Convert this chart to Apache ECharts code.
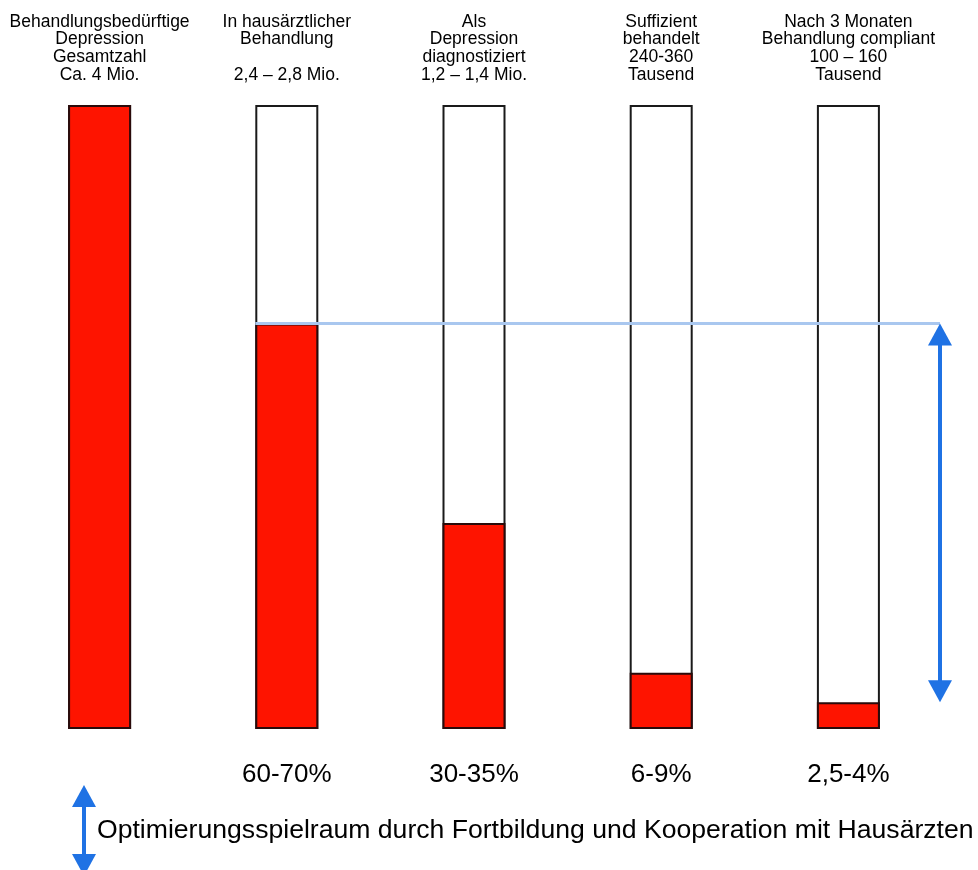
<!DOCTYPE html>
<html>
<head>
<meta charset="utf-8">
<script src="https://cdn.jsdelivr.net/npm/echarts@6/dist/echarts.min.js"></script>
<style>
  html, body { margin: 0; padding: 0; background: #ffffff; }
  #chart { width: 978px; height: 870px; }
</style>
</head>
<body>
<div id="chart"></div>
<script>
// Stages of care for depression (share of all patients needing treatment)
const categories = [
  'Behandlungsbedürftige\nDepression\nGesamtzahl\nCa. 4 Mio.',
  'In hausärztlicher\nBehandlung\n\n2,4 – 2,8 Mio.',
  'Als\nDepression\ndiagnostiziert\n1,2 – 1,4 Mio.',
  'Suffizient\nbehandelt\n240-360\nTausend',
  'Nach 3 Monaten\nBehandlung compliant\n100 – 160\nTausend'
];
const shareValues = [100, 65, 33, 9, 4.3];
const totalValues = [100, 100, 100, 100, 100];
const shareLabels = ['', '60-70%', '30-35%', '6-9%', '2,5-4%'];
const noteText = 'Optimierungsspielraum durch Fortbildung und Kooperation mit Hausärzten';

const FONT = '"Liberation Sans", Arial, Helvetica, sans-serif';
const BAR_WIDTH = 63;
const ARROW_BLUE = '#1f72e4';

const chart = echarts.init(document.getElementById('chart'), null, { renderer: 'canvas' });

chart.setOption({
  backgroundColor: '#ffffff',
  animation: false,
  grid: { left: 6, right: 36, top: 105, bottom: 141, containLabel: false },
  xAxis: [
    {
      type: 'category',
      position: 'top',
      data: categories,
      axisLine: { show: false },
      axisTick: { show: false },
      axisLabel: {
        interval: 0,
        margin: 21,
        color: '#000000',
        fontFamily: FONT,
        fontSize: 17.5,
        lineHeight: 17.8,
        align: 'center'
      }
    },
    {
      type: 'category',
      position: 'bottom',
      data: shareLabels,
      axisLine: { show: false },
      axisTick: { show: false },
      axisLabel: {
        interval: 0,
        margin: 33,
        color: '#000000',
        fontFamily: FONT,
        fontSize: 26
      }
    }
  ],
  yAxis: { type: 'value', min: 0, max: 100, show: false },
  series: [
    {
      name: 'Gesamt',
      type: 'bar',
      xAxisIndex: 0,
      data: totalValues,
      barWidth: BAR_WIDTH,
      barGap: '-100%',
      itemStyle: { color: '#ffffff', borderColor: '#1a1a1a', borderWidth: 2 },
      silent: true
    },
    {
      name: 'Anteil',
      type: 'bar',
      xAxisIndex: 0,
      data: shareValues,
      barWidth: BAR_WIDTH,
      barGap: '-100%',
      itemStyle: { color: '#fe1400', borderColor: '#2a0a0a', borderWidth: 2 },
      silent: true
    }
  ]
});

// Annotation: reference line at the GP stage and the gap arrow down to the last stage
const gpPoint = chart.convertToPixel({ seriesIndex: 1 }, [1, shareValues[1]]);
const lastPoint = chart.convertToPixel({ seriesIndex: 1 }, [4, shareValues[4]]);
const lineLeft = gpPoint[0] - BAR_WIDTH / 2;
const arrowX = 940;
const head = 22, halfHead = 12;

function arrowHead(x, tipY, dir) {
  // dir = -1 points up, +1 points down
  return {
    type: 'polygon',
    z: 100,
    shape: { points: [[x, tipY], [x - halfHead, tipY - dir * head], [x + halfHead, tipY - dir * head]] },
    style: { fill: ARROW_BLUE },
    silent: true
  };
}

const smallX = 84, smallTop = 785, smallBottom = 876;

chart.setOption({
  graphic: [
    {
      type: 'line',
      z: 100,
      shape: { x1: lineLeft, y1: gpPoint[1], x2: arrowX, y2: gpPoint[1] },
      style: { stroke: '#a9c7ef', lineWidth: 3 },
      silent: true
    },
    {
      type: 'line',
      z: 100,
      shape: { x1: arrowX, y1: gpPoint[1] + head - 2, x2: arrowX, y2: lastPoint[1] - head + 2 },
      style: { stroke: ARROW_BLUE, lineWidth: 4 },
      silent: true
    },
    arrowHead(arrowX, gpPoint[1], -1),
    arrowHead(arrowX, lastPoint[1], 1),
    {
      type: 'line',
      z: 100,
      shape: { x1: smallX, y1: smallTop + head - 2, x2: smallX, y2: smallBottom - head + 2 },
      style: { stroke: ARROW_BLUE, lineWidth: 4 },
      silent: true
    },
    arrowHead(smallX, smallTop, -1),
    arrowHead(smallX, smallBottom, 1),
    {
      type: 'text',
      z: 100,
      left: 97,
      top: 817,
      style: {
        text: noteText,
        fill: '#000000',
        font: '26.6px ' + FONT
      },
      silent: true
    }
  ]
});
</script>
</body>
</html>
